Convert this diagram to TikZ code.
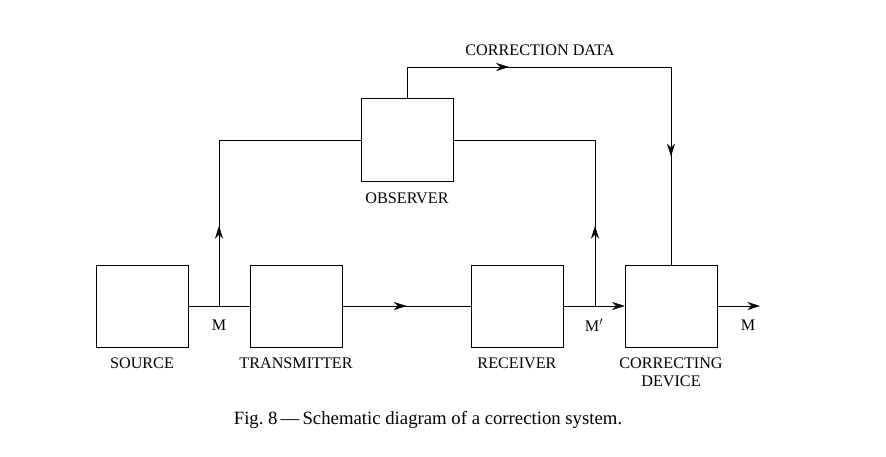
\documentclass[tikz,border=0pt]{standalone}
\usepackage{fontspec}
\setmainfont{Liberation Serif}
\usetikzlibrary{positioning,arrows.meta,decorations.markings}
\tikzset{
  blockbox/.style={rectangle, draw, minimum width=2.76cm, minimum height=2.46cm, inner sep=0pt},
  lbl/.style={font=\fontsize{13.8}{15}\selectfont, inner sep=0pt},
  midarrow/.style={postaction={decorate}, decoration={markings,
                   mark=at position #1 with {\arrow{Stealth[length=3.8mm,width=2.4mm]}}}},
  endarrow/.style={-{Stealth[length=3.8mm,width=2.4mm]}},
}

\begin{document}
\begin{tikzpicture}[x=0.03cm, y=-0.03cm, thin]
  \useasboundingbox (0,0) rectangle (886,457);
  % blocks
  \node[blockbox] (src) at (142,306) {};
  \node[blockbox] (trans) at (296,306) {};
  \node[blockbox] (recv) at (517,306) {};
  \node[blockbox] (corr) at (671,306) {};
  \node[blockbox, minimum height=2.49cm] (obs) at (407,140) {};
  % helper points
  \coordinate (m) at (219,306);
  \coordinate (mp) at (595,306);
  \coordinate (out) at (760,306);
  \coordinate (tl) at (219,140);
  \coordinate (tr) at (595,140);
  \coordinate (ul) at (407,67);
  \coordinate (ur) at (671,67);

  % main line
  \draw (src.east) -- (trans.west);
  \draw[midarrow=0.5] (trans.east) -- (recv.west);
  \draw[endarrow] (recv.east) -- (corr.west);
  \draw[endarrow] (corr.east) -- (out);
  % to observer and back
  \draw[midarrow=0.26] (m) -- (tl) -- (obs.west);
  \draw[midarrow=0.26] (mp) -- (tr) -- (obs.east);
  % correction data
  \draw[midarrow=0.27] (obs.north) -- (ul) -- (ur) -- (corr.north);
  \draw[midarrow=0.78] (obs.north) -- (ul) -- (ur) -- (corr.north);

  % labels
  \node[lbl] at (540,50) {CORRECTION DATA};
  \node[lbl] at (407,198) {OBSERVER};
  \node[lbl] at (142,363) {SOURCE};
  \node[lbl] at (296,363) {TRANSMITTER};
  \node[lbl] at (517,363) {RECEIVER};
  \node[lbl, align=center] at (671,372) {CORRECTING\\DEVICE};
  \node[lbl] at (219,325) {M};
  \node[lbl] at (594,325) {M$'$};
  \node[lbl] at (748,325) {M};
  \node[font=\fontsize{16}{18}\selectfont] (cap) at (428,420) {Fig.~8\,---\,Schematic diagram of a correction system.};
\end{tikzpicture}
\end{document}
